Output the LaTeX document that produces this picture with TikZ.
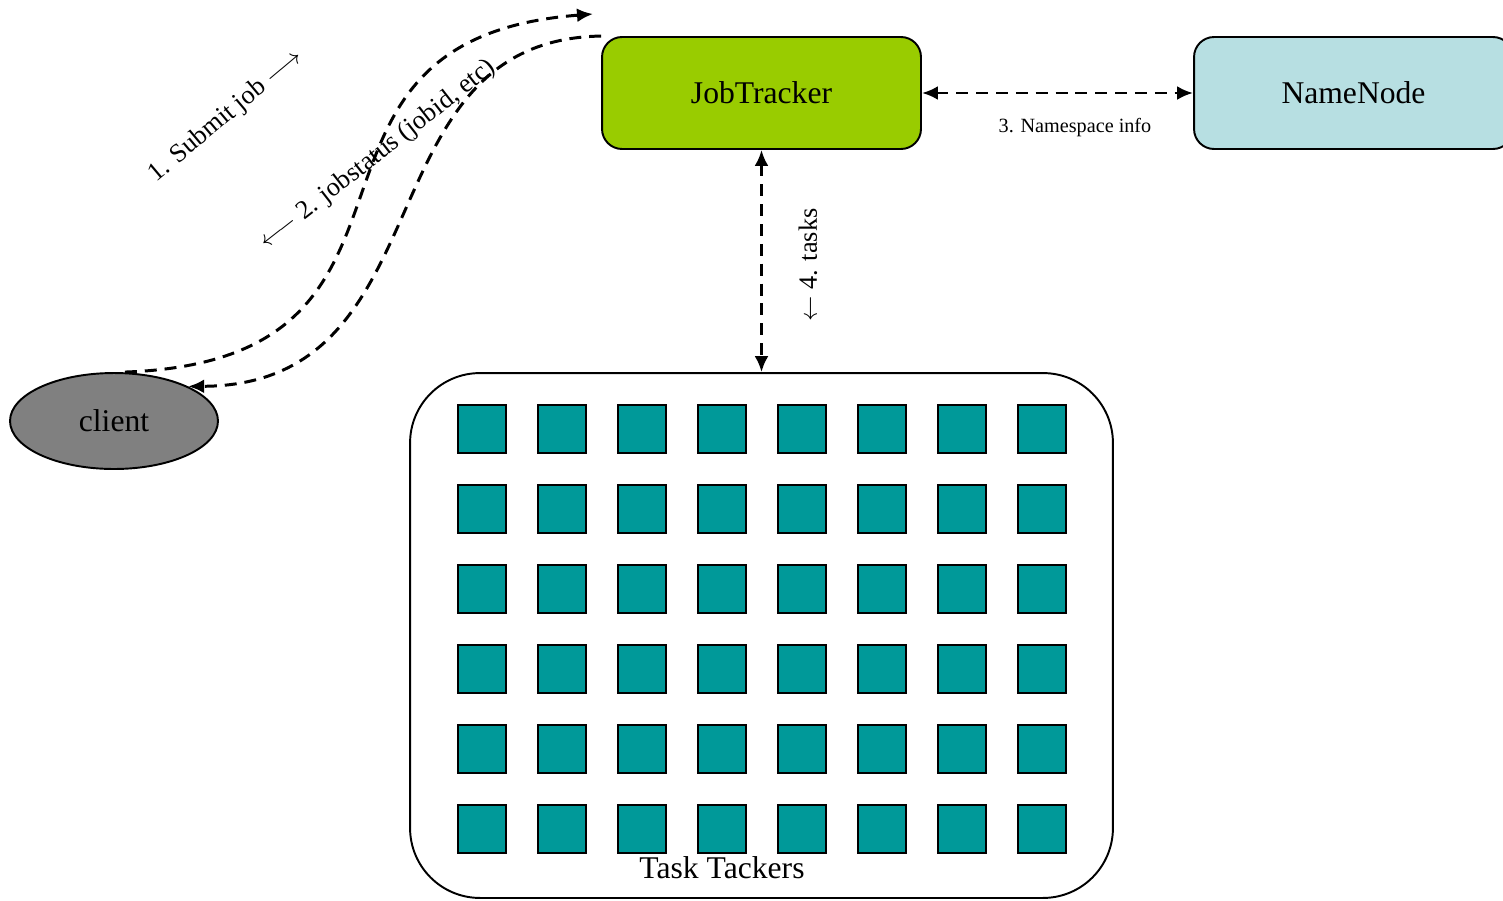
\documentclass[tikz,border=0pt]{standalone}
\usepackage{fontspec}
\setmainfont{Liberation Serif}
\usetikzlibrary{shapes,arrows,arrows.meta,positioning,calc}

\definecolor{jtgreen}{HTML}{99CC00}
\definecolor{nnblue}{HTML}{B7DFE2}
\definecolor{ttteal}{HTML}{009999}
\definecolor{clgray}{HTML}{808080}

\begin{document}
\begin{tikzpicture}[
    x=0.02cm, y=-0.02cm,
    box/.style={draw, line width=1.1pt, rounded corners=0.4cm, minimum width=6.38cm, minimum height=2.24cm, align=center, font=\fontsize{18}{20}\selectfont},
    tracker/.style={draw, line width=1.1pt, fill=ttteal, minimum size=0.96cm, inner sep=0pt},
    arrow/.style={{Latex[length=3.2mm,width=2.8mm]}-{Latex[length=3.2mm,width=2.8mm]}, line width=1.7pt, dash pattern=on 6.8pt off 4.5pt},
    onearrow/.style={arrow, {-Latex[length=3.2mm,width=2.8mm]}},
    lbl/.style={font=\fontsize{15}{17}\selectfont}
]
    \useasboundingbox (0,0) rectangle (1503,900);

    \node[box, fill=jtgreen] (jt) at (761.5,93) {JobTracker};
    \node[box, fill=nnblue] (nn) at (1353.5,93) {NameNode};
    \node[ellipse, draw, line width=1.1pt, fill=clgray, minimum width=4.16cm, minimum height=1.92cm, font=\fontsize{18}{20}\selectfont] (client) at (114,421) {client};
    \node[draw, line width=1.1pt, rounded corners=1.4cm, minimum width=14.06cm, minimum height=10.5cm] (tt) at (761.5,635.5) {};

    % task tracker grid
    \foreach \c in {0,...,7}
        \foreach \r in {0,...,5}
            \node[tracker] (t-\r-\c) at (482+80*\c, 429+80*\r) {};
    \node[font=\fontsize{18}{20}\selectfont] (ttlabel) at (722,868) {Task Tackers};

    \coordinate (submitend) at (593,14);
    \draw[onearrow] ($(client.north)+(11,0)$) .. controls (470,360) and (255,40) .. (submitend);
    \draw[onearrow] (jt.north west) .. controls (360,40) and (450,385) .. (client.north east);
    \draw[arrow] (jt) -- (nn);
    \draw[arrow] (jt) -- (tt);

    \node[lbl, rotate=40] (submitlbl) at (226,116) {1. Submit job $\longrightarrow$};
    \node[lbl, rotate=38] (statuslbl) at (378,155) {$\longleftarrow$ 2. jobstatus (jobid, etc)};
    \node[font=\fontsize{11.5}{13}\selectfont] (nslbl) at (1075,128) {3. Namespace info};
    \node[lbl, rotate=90] (tasklbl) at (808,265) {$\leftarrow$ 4. tasks};
\end{tikzpicture}
\end{document}
